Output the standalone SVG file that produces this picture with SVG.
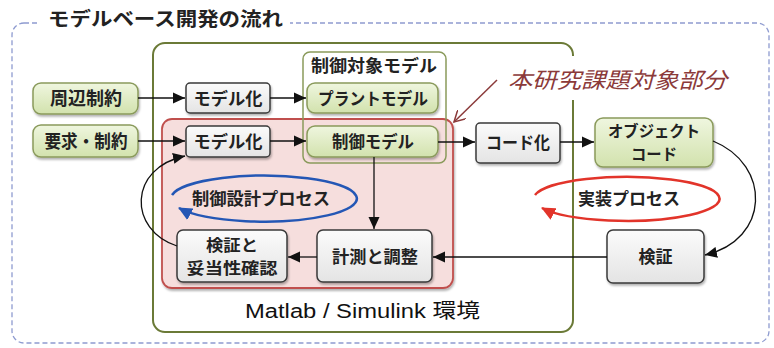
<svg xmlns="http://www.w3.org/2000/svg" width="774" height="348" viewBox="0 0 774 348">
<style>
  .t { font-family: "Noto Sans CJK JP", "Noto Sans", sans-serif; font-weight: bold; fill: #222; text-anchor: middle; font-size: 17px; }
  .t2 { font-size: 15.8px; }
  .gray { fill: url(#gGray); stroke: #3a3a3a; stroke-width: 1.5; filter: url(#sh); }
  .green { fill: url(#gGreen); stroke: #8a9a5b; stroke-width: 1.5; filter: url(#sh); }
  .conn { fill: none; stroke: #111; stroke-width: 1.3; }
</style>
<defs>
  <linearGradient id="gGray" x1="0" y1="0" x2="0" y2="1">
    <stop offset="0" stop-color="#fbfbfb"/><stop offset="1" stop-color="#e4e4e4"/>
  </linearGradient>
  <linearGradient id="gGreen" x1="0" y1="0" x2="0" y2="1">
    <stop offset="0" stop-color="#eff6df"/><stop offset="1" stop-color="#d2e2ad"/>
  </linearGradient>
  <filter id="sh" x="-10%" y="-10%" width="125%" height="135%">
    <feDropShadow dx="1" dy="2" stdDeviation="1.2" flood-color="#000" flood-opacity="0.3"/>
  </filter>
  <marker id="ah" markerWidth="13" markerHeight="12" refX="12" refY="6" orient="auto" markerUnits="userSpaceOnUse">
    <path d="M0,0.5 L12,6 L0,11.5 Z" fill="#111"/>
  </marker>
  <marker id="ahB" markerWidth="15" markerHeight="13" refX="13" refY="6.5" orient="auto" markerUnits="userSpaceOnUse">
    <path d="M0,0 L14,6.5 L0,13 Z" fill="#2457b5"/>
  </marker>
  <marker id="ahR" markerWidth="15" markerHeight="13" refX="13" refY="6.5" orient="auto" markerUnits="userSpaceOnUse">
    <path d="M0,0 L14,6.5 L0,13 Z" fill="#e2342a"/>
  </marker>
  <marker id="ahO" markerWidth="12" markerHeight="12" refX="11" refY="6" orient="auto" markerUnits="userSpaceOnUse">
    <path d="M0,0 L11,6 L0,12" fill="none" stroke="#8b3a3a" stroke-width="1.5"/>
  </marker>
</defs>
<rect width="774" height="348" fill="#fff"/>

<g id="frame">
  <rect x="12" y="23" width="757" height="320" rx="12" fill="none" stroke="#8e9bd0" stroke-width="1.3" stroke-dasharray="5,3"/>
  <rect x="38" y="8" width="252" height="28" fill="#fff"/>
  <text x="48" y="26" font-family="Noto Sans CJK JP, sans-serif" font-weight="bold" font-size="19" fill="#222" textLength="235" lengthAdjust="spacingAndGlyphs">モデルベース開発の流れ</text>
</g>

<g id="matlab-env">
  <rect x="153" y="43" width="420" height="289" rx="12" fill="none" stroke="#6b7a37" stroke-width="2"/>
  <text x="245" y="318" font-family="Liberation Sans, Noto Sans CJK JP, sans-serif" font-size="20" fill="#111" textLength="235" lengthAdjust="spacingAndGlyphs">Matlab / Simulink 環境</text>
</g>

<g id="control-design">
  <rect x="162" y="119" width="291" height="169" rx="10" fill="#f6dedd" stroke="#c0504d" stroke-width="1.8" filter="url(#sh)"/>
</g>

<g id="label-target">
  <rect x="500" y="56" width="238" height="44" fill="#fff"/>
  <text x="508" y="88" font-family="Noto Sans CJK JP, sans-serif" font-size="22" font-style="italic" fill="#8b3a3a" textLength="219" lengthAdjust="spacingAndGlyphs">本研究課題対象部分</text>
</g>

<g id="plant-group">
  <rect x="303" y="52" width="143" height="111" rx="7" fill="none" stroke="#8a9a5b" stroke-width="1.5"/>
  <text class="t" x="374" y="72" textLength="126" lengthAdjust="spacingAndGlyphs">制御対象モデル</text>
</g>

<g id="n-shuhen"><rect class="green" x="33" y="83" width="105" height="31" rx="8"/><text class="t" x="86" y="105" style="font-size:18px" textLength="72" lengthAdjust="spacingAndGlyphs">周辺制約</text></g>
<g id="n-yokyu"><rect class="green" x="33" y="125" width="105" height="32" rx="8"/><text class="t" x="86" y="148" style="font-size:18px" textLength="83" lengthAdjust="spacingAndGlyphs">要求・制約</text></g>
<g id="n-model1"><rect class="gray" x="186" y="83" width="84" height="30" rx="4"/><text class="t" x="228" y="104.5" textLength="69" lengthAdjust="spacingAndGlyphs">モデル化</text></g>
<g id="n-model2"><rect class="gray" x="186" y="126" width="84" height="31" rx="4"/><text class="t" x="228" y="148" textLength="69" lengthAdjust="spacingAndGlyphs">モデル化</text></g>
<g id="n-plant"><rect class="green" x="307" y="83" width="131" height="30" rx="8"/><text class="t" x="373" y="104.5" textLength="110" lengthAdjust="spacingAndGlyphs">プラントモデル</text></g>
<g id="n-ctrl"><rect class="green" x="307" y="126" width="131" height="31" rx="8"/><text class="t" x="373" y="148" textLength="82" lengthAdjust="spacingAndGlyphs">制御モデル</text></g>
<g id="n-code"><rect class="gray" x="476" y="123" width="84" height="40" rx="4"/><text class="t" x="518" y="149" textLength="64" lengthAdjust="spacingAndGlyphs">コード化</text></g>
<g id="n-obj"><rect class="green" x="595" y="118" width="118" height="49" rx="8"/><text class="t t2" x="654" y="137"><tspan x="654" textLength="92" lengthAdjust="spacingAndGlyphs">オブジェクト</tspan><tspan x="654" dy="23" textLength="46" lengthAdjust="spacingAndGlyphs">コード</tspan></text></g>
<g id="n-verify"><rect class="gray" x="177" y="230" width="110" height="52" rx="6"/><text class="t t2" x="232" y="250.5"><tspan x="232" textLength="52" lengthAdjust="spacingAndGlyphs">検証と</tspan><tspan x="232" dy="23" textLength="91" lengthAdjust="spacingAndGlyphs">妥当性確認</tspan></text></g>
<g id="n-measure"><rect class="gray" x="317" y="230" width="115" height="52" rx="6"/><text class="t" x="375" y="263" textLength="86" lengthAdjust="spacingAndGlyphs">計測と調整</text></g>
<g id="n-kensho"><rect class="gray" x="607" y="230" width="97" height="53" rx="6"/><text class="t" x="655.5" y="263">検証</text></g>

<g id="connectors">
  <line class="conn" x1="138" y1="98" x2="185" y2="98" marker-end="url(#ah)"/>
  <line class="conn" x1="270" y1="98" x2="306" y2="98" marker-end="url(#ah)"/>
  <line class="conn" x1="138" y1="141" x2="185" y2="141" marker-end="url(#ah)"/>
  <line class="conn" x1="270" y1="141" x2="306" y2="141" marker-end="url(#ah)"/>
  <line class="conn" x1="438" y1="142" x2="475" y2="142" marker-end="url(#ah)"/>
  <line class="conn" x1="560" y1="142" x2="594" y2="142" marker-end="url(#ah)"/>
  <line class="conn" x1="374" y1="157" x2="374" y2="229" marker-end="url(#ah)"/>
  <line class="conn" x1="607" y1="257" x2="433" y2="257" marker-end="url(#ah)"/>
  <line class="conn" x1="317" y1="257" x2="288" y2="257" marker-end="url(#ah)"/>
  <path class="conn" d="M177,246 C128,230 128,168 185,156" marker-end="url(#ah)"/>
  <path class="conn" d="M713,141 C772,165 770,240 705,255" marker-end="url(#ah)"/>
  <line x1="497" y1="80" x2="454" y2="122" stroke="#8b3a3a" stroke-width="1.5" marker-end="url(#ahO)"/>
  <path d="M172,195 A93,23 0 1 1 179,208" fill="none" stroke="#2457b5" stroke-width="2.5" marker-end="url(#ahB)"/>
  <path d="M535,195 A93,22 0 1 1 542,208" fill="none" stroke="#e2342a" stroke-width="2.5" marker-end="url(#ahR)"/>
</g>

<g id="process-labels">
  <text class="t" x="261" y="205" textLength="138" lengthAdjust="spacingAndGlyphs">制御設計プロセス</text>
  <text class="t" x="629" y="205" textLength="102" lengthAdjust="spacingAndGlyphs">実装プロセス</text>
</g>
</svg>
